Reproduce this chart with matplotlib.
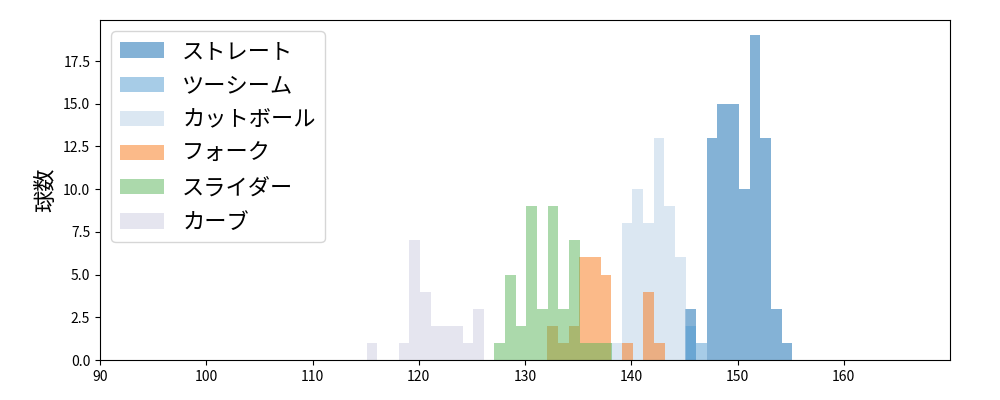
import numpy as np
import matplotlib
matplotlib.use("Agg")
import matplotlib.pyplot as plt

plt.rcParams['font.family'] = ['Noto Sans CJK JP', 'DejaVu Sans']

names = ["ストレート", "ツーシーム", "カットボール", "フォーク", "スライダー", "カーブ"]
colors = ["#0b67af", "#519bd1", "#b9d1e7", "#f97715", "#59b559", "#cdcde1"]
starts = [145.1, 145.1, 138.1, 132.1, 127.1, 115.1]
straight = [3, 0, 13, 15, 15, 10, 19, 13, 3, 1]
twoseam = [2, 1]
cutball = [1, 8, 10, 8, 13, 9, 6]
fork = [2, 1, 2, 6, 6, 5, 0, 1, 0, 4, 1]
slider = [1, 5, 2, 9, 3, 9, 3, 7, 1, 1, 1]
curve = [1, 0, 0, 1, 7, 4, 2, 2, 2, 1, 3]
series = [straight, twoseam, cutball, fork, slider, curve]

fig, ax = plt.subplots(figsize=(10, 4), dpi=100)
fig.subplots_adjust(left=0.1, right=0.95, top=0.95, bottom=0.1)
for name, c, s, counts in zip(names, colors, starts, series):
    counts = np.array(counts, dtype=float)
    edges = s + 1.005 * np.arange(len(counts) + 1)
    centers = (edges[:-1] + edges[1:]) / 2
    ax.hist(centers, bins=edges, weights=counts, color=c, alpha=0.5, label=name)

ax.set_xlim(90, 170)
ax.set_xticks(range(90, 170, 10))
ax.set_ylim(0, 19.9)
ax.set_yticks(np.arange(0, 19, 2.5))
ax.set_ylabel("球数", fontsize=16)
ax.legend(loc="upper left", fontsize=16)
fig.savefig("out.png")
